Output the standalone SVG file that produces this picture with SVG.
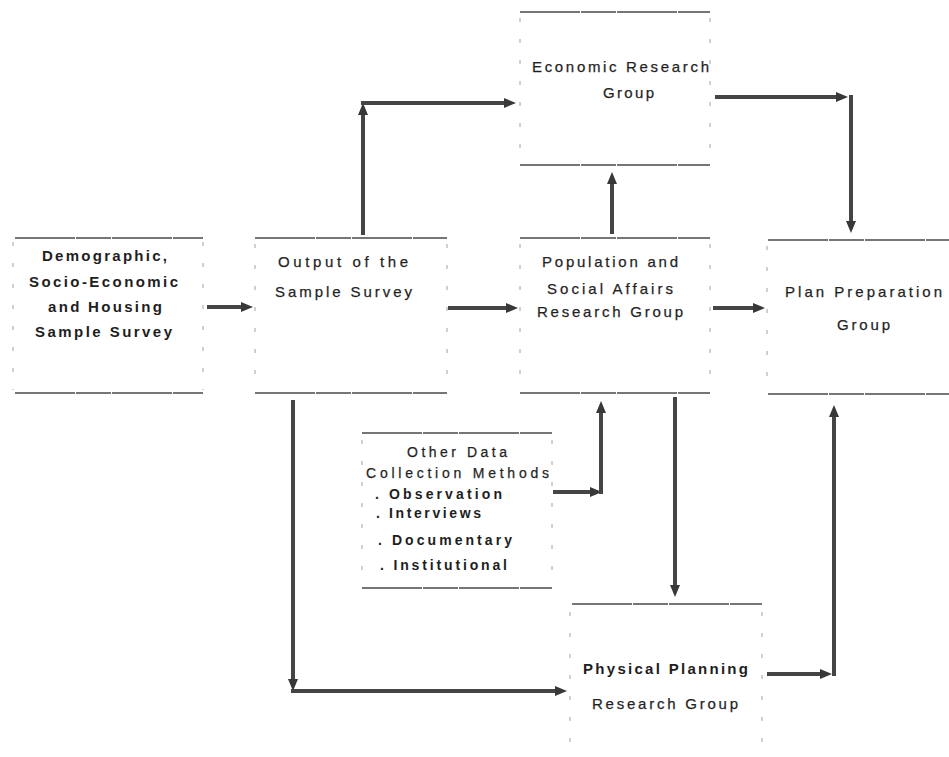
<svg xmlns="http://www.w3.org/2000/svg" width="949" height="757" viewBox="0 0 949 757">
<defs>
<style>
.edge{stroke:#4a4a4a;stroke-width:1.3;fill:none;stroke-dasharray:60 1 35 1}
.side{stroke:#a0a0a0;stroke-width:1;fill:none;stroke-dasharray:4 17}
.t{font-family:"Liberation Sans",Arial,sans-serif;font-size:15px;fill:#1e1e1e;stroke:#2a2a2a;stroke-width:0.25}
.b{font-weight:bold;stroke-width:0}
.s{font-size:14px}
.c{stroke:#454545;stroke-width:4;fill:none;marker-end:url(#ah)}
</style>
<marker id="ah" markerUnits="userSpaceOnUse" markerWidth="14" markerHeight="12" refX="2" refY="5" orient="auto">
<path d="M0,0 L12,5 L0,10 z" fill="#383838"/>
</marker>
</defs>
<rect width="949" height="757" fill="#ffffff"/>

<g id="demographic">
<path class="edge" d="M15,238 H203 M15,393 H203"/>
<path class="side" d="M13,242 V390 M203,242 V390"/>
<text class="t b" x="42" y="261" textLength="125" lengthAdjust="spacing">Demographic,</text>
<text class="t b" x="29" y="287" textLength="149" lengthAdjust="spacing">Socio-Economic</text>
<text class="t b" x="48" y="312" textLength="114" lengthAdjust="spacing">and Housing</text>
<text class="t b" x="35" y="337" textLength="137" lengthAdjust="spacing">Sample Survey</text>
</g>

<g id="output">
<path class="edge" d="M255,238 H447 M255,393 H447"/>
<path class="side" d="M255,244 V390 M447,244 V390"/>
<text class="t" x="278" y="267" textLength="130" lengthAdjust="spacing">Output of the</text>
<text class="t" x="275" y="297" textLength="137" lengthAdjust="spacing">Sample Survey</text>
</g>

<g id="economic">
<path class="edge" d="M520,12 H710 M520,165 H710"/>
<path class="side" d="M520,18 V162 M710,18 V162"/>
<text class="t" x="532" y="72" textLength="177" lengthAdjust="spacing">Economic Research</text>
<text class="t" x="603" y="98" textLength="51" lengthAdjust="spacing">Group</text>
</g>

<g id="population">
<path class="edge" d="M520,238 H710 M520,393 H710"/>
<path class="side" d="M520,244 V390 M710,244 V390"/>
<text class="t" x="542" y="267" textLength="136" lengthAdjust="spacing">Population and</text>
<text class="t" x="547" y="294" textLength="126" lengthAdjust="spacing">Social Affairs</text>
<text class="t" x="537" y="317" textLength="146" lengthAdjust="spacing">Research Group</text>
</g>

<g id="plan">
<path class="edge" d="M768,240 H949 M768,394 H949"/>
<path class="side" d="M767,246 V390"/>
<text class="t" x="785" y="297" textLength="157" lengthAdjust="spacing">Plan Preparation</text>
<text class="t" x="837" y="330" textLength="53" lengthAdjust="spacing">Group</text>
</g>

<g id="other">
<path class="edge" d="M362,433 H552 M362,588 H552"/>
<path class="side" d="M362,440 V584 M552,440 V584"/>
<text class="t s" x="407" y="457" textLength="100" lengthAdjust="spacing">Other Data</text>
<text class="t s" x="366" y="478" textLength="183" lengthAdjust="spacing">Collection Methods</text>
<text class="t s b" x="375" y="499" textLength="127" lengthAdjust="spacing">. Observation</text>
<text class="t s b" x="376" y="518" textLength="105" lengthAdjust="spacing">. Interviews</text>
<text class="t s b" x="378" y="545" textLength="134" lengthAdjust="spacing">. Documentary</text>
<text class="t s b" x="380" y="570" textLength="127" lengthAdjust="spacing">. Institutional</text>
</g>

<g id="physical">
<path class="edge" d="M572,604 H762"/>
<path class="side" d="M570,612 V755 M762,612 V755"/>
<text class="t b" x="583" y="674" textLength="165" lengthAdjust="spacing">Physical Planning</text>
<text class="t" x="592" y="709" textLength="146" lengthAdjust="spacing">Research Group</text>
</g>

<g id="connectors">
<line class="c" x1="207" y1="307" x2="243" y2="307"/>
<line class="c" x1="363" y1="235" x2="363" y2="113"/>
<line class="c" x1="361" y1="103" x2="506" y2="103"/>
<line class="c" x1="715" y1="97" x2="838" y2="97"/>
<line class="c" x1="851" y1="95" x2="851" y2="223"/>
<line class="c" x1="612" y1="234" x2="612" y2="182"/>
<line class="c" x1="448" y1="308" x2="508" y2="308"/>
<line class="c" x1="713" y1="308" x2="755" y2="308"/>
<line class="c" x1="553" y1="492" x2="592" y2="492"/>
<line class="c" x1="601" y1="494" x2="601" y2="411"/>
<line class="c" x1="675" y1="397" x2="675" y2="587"/>
<line class="c" x1="293" y1="400" x2="293" y2="681"/>
<line class="c" x1="291" y1="691" x2="557" y2="691"/>
<line class="c" x1="767" y1="674" x2="822" y2="674"/>
<line class="c" x1="834" y1="676" x2="834" y2="415"/>
</g>
</svg>
